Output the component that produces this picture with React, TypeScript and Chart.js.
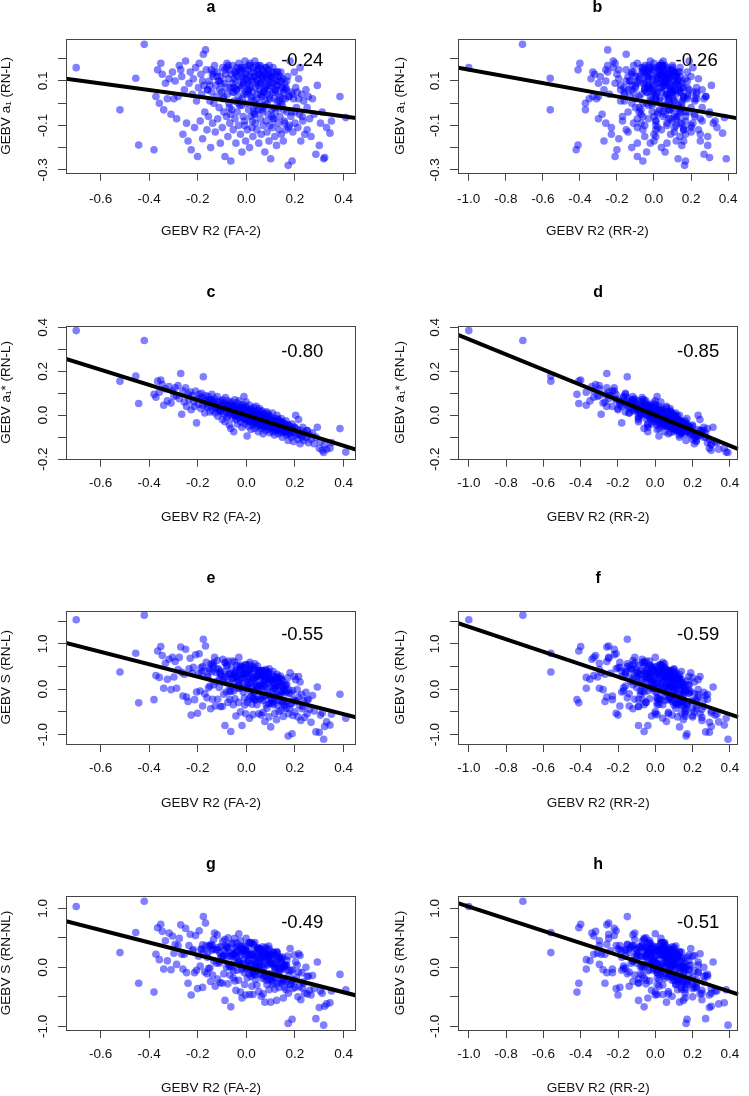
import React, { useEffect, useRef } from 'react';
import { Chart, registerables } from 'chart.js';

Chart.register(...registerables);

// ---------- data (one entry per individual; same order in every array) ----------
const gebvR2FA = [
  -0.700, -0.520, -0.455, -0.443, -0.420, -0.380, -0.372, -0.365, -0.358, -0.352,
  -0.346, -0.340, -0.333, -0.325, -0.318, -0.310, -0.304, -0.298, -0.293, -0.287,
  -0.281, -0.276, -0.270, -0.266, -0.261, -0.255, -0.250, -0.246, -0.240, -0.236,
  -0.231, -0.227, -0.222, -0.218, -0.213, -0.209, -0.205, -0.201, -0.197, -0.194,
  -0.190, -0.187, -0.184, -0.180, -0.177, -0.174, -0.171, -0.168, -0.165, -0.162,
  -0.159, -0.156, -0.153, -0.150, -0.147, -0.145, -0.142, -0.139, -0.136, -0.134,
  -0.131, -0.128, -0.126, -0.123, -0.120, -0.118, -0.115, -0.112, -0.110, -0.107,
  -0.105, -0.102, -0.099, -0.097, -0.095, -0.093, -0.090, -0.088, -0.086, -0.084,
  -0.082, -0.080, -0.078, -0.076, -0.074, -0.072, -0.070, -0.068, -0.066, -0.064,
  -0.062, -0.060, -0.058, -0.056, -0.054, -0.052, -0.050, -0.048, -0.047, -0.045,
  -0.043, -0.041, -0.039, -0.038, -0.036, -0.034, -0.032, -0.031, -0.029, -0.027,
  -0.025, -0.024, -0.022, -0.020, -0.018, -0.017, -0.015, -0.013, -0.011, -0.010,
  -0.008, -0.006, -0.004, -0.003, -0.001, 0.001, 0.003, 0.004, 0.006, 0.008,
  0.009, 0.011, 0.013, 0.014, 0.016, 0.018, 0.019, 0.021, 0.023, 0.024,
  0.026, 0.027, 0.029, 0.031, 0.032, 0.034, 0.035, 0.037, 0.038, 0.040,
  0.042, 0.043, 0.045, 0.046, 0.048, 0.049, 0.051, 0.052, 0.054, 0.055,
  0.057, 0.058, 0.060, 0.061, 0.063, 0.064, 0.066, 0.067, 0.069, 0.070,
  0.072, 0.073, 0.075, 0.076, 0.078, 0.079, 0.081, 0.082, 0.084, 0.085,
  0.087, 0.088, 0.090, 0.091, 0.093, 0.094, 0.096, 0.097, 0.099, 0.100,
  0.102, 0.104, 0.105, 0.107, 0.109, 0.110, 0.112, 0.114, 0.115, 0.117,
  0.119, 0.120, 0.122, 0.124, 0.126, 0.127, 0.129, 0.131, 0.133, 0.134,
  0.136, 0.138, 0.140, 0.142, 0.144, 0.146, 0.148, 0.150, 0.152, 0.154,
  0.156, 0.158, 0.160, 0.163, 0.165, 0.167, 0.170, 0.172, 0.175, 0.177,
  0.180, 0.183, 0.185, 0.188, 0.191, 0.194, 0.197, 0.200, 0.203, 0.206,
  0.209, 0.212, 0.215, 0.218, 0.221, 0.224, 0.228, 0.232, 0.236, 0.240,
  0.245, 0.250, 0.255, 0.260, 0.266, 0.272, 0.279, 0.286, 0.292, 0.300,
  0.305, 0.312, 0.318, 0.322, 0.330, 0.344, 0.350, 0.385, 0.409,
  -0.050, -0.020, 0.010, 0.030, 0.050, 0.070, 0.090, 0.110, 0.130, 0.150,
  -0.150, -0.120, -0.095, -0.080, -0.065, -0.050, -0.040, -0.030, -0.020, -0.012,
  -0.005, 0.002, 0.010, 0.017, 0.025, 0.033, 0.041, 0.048, 0.056, 0.062,
  0.068, 0.074, 0.080, 0.086, 0.092, 0.098, 0.104, 0.111, 0.118, 0.125,
  0.132, 0.140, 0.148, 0.157, 0.166, 0.175, 0.185, -0.135, -0.105, -0.075,
  -0.058, -0.044, -0.033, -0.024, -0.015, -0.007, 0.000, 0.007, 0.015, 0.022,
  0.029, 0.036, 0.044, 0.051, 0.059, 0.066, 0.073, 0.080, 0.088, 0.095,
  0.103, 0.110, 0.118, 0.126, 0.135, 0.144, 0.153, 0.163, 0.173, 0.190,
  -0.110, -0.088, -0.070, -0.055, -0.042, -0.028, -0.016, -0.004, 0.008, 0.020,
  0.031, 0.043, 0.054, 0.065, 0.077, 0.089, 0.101, 0.113, 0.127, 0.142,
  0.158, 0.200, 0.215, -0.180, -0.160, -0.140, 0.230, 0.250, 0.060, 0.040,
];

const gebvR2RR = [
  -1.000, -0.560, -0.560, -0.410, -0.710, -0.420, -0.330, -0.410, -0.370, -0.400,
  -0.320, -0.370, -0.300, -0.350, -0.340, -0.280, -0.330, -0.310, -0.260, -0.300,
  -0.300, -0.250, -0.260, -0.290, -0.230, -0.270, -0.220, -0.260, -0.270, -0.210,
  -0.250, -0.200, -0.240, -0.190, -0.230, -0.220, -0.180, -0.210, -0.160, -0.210,
  -0.170, -0.200, -0.160, -0.190, -0.150, -0.180, -0.140, -0.250, -0.190, -0.150,
  -0.140, -0.170, -0.130, -0.160, -0.120, -0.150, -0.160, -0.110, -0.140, -0.120,
  -0.110, -0.140, -0.100, -0.130, -0.120, -0.090, -0.130, -0.100, -0.120, -0.090,
  -0.080, -0.110, -0.090, -0.070, -0.100, -0.080, -0.060, -0.090, -0.070, -0.100,
  -0.060, -0.090, -0.070, -0.050, -0.080, -0.060, -0.040, -0.070, -0.050, -0.060,
  -0.040, -0.070, -0.050, -0.030, -0.060, -0.040, -0.020, -0.060, -0.030, -0.050,
  -0.020, -0.050, -0.030, -0.010, -0.040, -0.020, -0.050, 0.000, -0.030, -0.010,
  -0.030, 0.000, -0.020, -0.010, -0.040, 0.010, -0.020, 0.000, -0.010, 0.010,
  0.010, -0.020, 0.020, 0.000, 0.030, -0.010, 0.020, 0.010, 0.030, 0.000,
  0.030, 0.010, 0.040, 0.000, 0.030, 0.050, 0.010, 0.040, 0.020, 0.050,
  0.040, 0.010, 0.050, 0.030, 0.060, 0.020, 0.050, 0.070, 0.030, 0.060,
  0.060, 0.040, 0.070, 0.030, 0.080, 0.050, 0.070, 0.040, 0.080, 0.060,
  0.080, 0.050, 0.070, 0.090, 0.060, 0.080, 0.050, 0.090, 0.070, 0.100,
  0.070, 0.100, 0.080, 0.060, 0.090, 0.110, 0.070, 0.100, 0.080, 0.110,
  0.100, 0.080, 0.110, 0.090, 0.120, 0.100, 0.080, 0.120, 0.110, 0.130,
  0.120, 0.090, 0.130, 0.110, 0.100, 0.140, 0.120, 0.100, 0.130, 0.140,
  0.110, 0.140, 0.120, 0.150, 0.130, 0.110, 0.150, 0.140, 0.120, 0.160,
  0.150, 0.130, 0.160, 0.140, 0.170, 0.150, 0.130, 0.170, 0.160, 0.140,
  0.170, 0.150, 0.180, 0.160, 0.190, 0.150, 0.200, 0.165, 0.180, 0.200,
  0.190, 0.170, 0.210, 0.170, 0.200, 0.220, 0.180, 0.210, 0.230, 0.200,
  0.230, 0.200, 0.240, 0.220, 0.210, 0.250, 0.230, 0.260, 0.220, 0.250,
  0.260, 0.240, 0.280, 0.250, 0.290, 0.270, 0.300, 0.270, 0.310, 0.290,
  0.320, 0.300, 0.390, 0.300, 0.340, 0.370, 0.330, 0.280, 0.380,
  -0.030, 0.000, 0.030, 0.050, 0.040, 0.090, 0.080, 0.120, 0.110, 0.160,
  -0.120, -0.100, -0.080, -0.060, -0.070, -0.030, -0.050, -0.010, -0.030, 0.010,
  0.020, -0.010, 0.030, 0.040, 0.010, 0.060, 0.030, 0.070, 0.050, 0.080,
  0.060, 0.090, 0.100, 0.070, 0.110, 0.080, 0.120, 0.100, 0.140, 0.110,
  0.150, 0.120, 0.160, 0.140, 0.180, 0.160, 0.170, -0.110, -0.090, -0.050,
  -0.040, -0.020, -0.040, 0.000, -0.030, 0.010, 0.020, -0.010, 0.040, 0.010,
  0.050, 0.020, 0.060, 0.040, 0.070, 0.050, 0.090, 0.060, 0.100, 0.080,
  0.120, 0.090, 0.130, 0.110, 0.150, 0.130, 0.140, 0.180, 0.160, 0.180,
  -0.090, -0.060, -0.080, -0.030, -0.050, -0.010, -0.030, 0.020, 0.000, 0.040,
  0.020, 0.060, 0.040, 0.080, 0.060, 0.100, 0.090, 0.130, 0.110, 0.150,
  0.140, 0.190, 0.230, -0.150, -0.180, -0.120, 0.220, 0.260, 0.080, 0.060,
];

const gebvA1 = [
  0.160, -0.030, 0.112, -0.188, 0.265, -0.210, 0.030, 0.150, 0.000, 0.180,
  0.130, -0.030, 0.090, 0.020, 0.110, -0.050, 0.140, 0.020, 0.100, -0.070,
  0.030, 0.170, 0.150, 0.120, -0.140, 0.060, 0.190, -0.090, -0.170, 0.090,
  0.140, -0.210, 0.040, 0.110, -0.110, 0.160, 0.010, -0.240, 0.070, 0.180,
  -0.080, 0.130, 0.040, -0.160, 0.220, 0.080, -0.040, 0.240, 0.150, -0.120,
  0.060, -0.060, 0.100, 0.010, -0.200, 0.150, 0.050, -0.090, 0.120, 0.000,
  0.170, -0.130, 0.080, 0.030, 0.140, -0.070, 0.100, -0.020, 0.060, -0.180,
  0.120, 0.050, -0.110, 0.160, 0.020, -0.040, 0.090, -0.240, 0.130, 0.070,
  -0.060, 0.180, 0.040, -0.150, 0.110, 0.000, 0.150, -0.090, 0.070, -0.260,
  0.130, -0.030, 0.090, 0.170, -0.120, 0.050, 0.010, 0.140, -0.070, 0.100,
  -0.180, 0.060, 0.160, -0.040, 0.120, 0.030, -0.100, 0.180, 0.080, -0.010,
  0.140, -0.140, 0.070, 0.110, -0.220, 0.020, 0.160, -0.060, 0.100, 0.040,
  -0.080, 0.190, 0.050, -0.170, 0.130, 0.000, 0.090, -0.120, 0.150, 0.060,
  -0.030, 0.120, -0.200, 0.080, 0.170, -0.060, 0.030, 0.140, -0.110, 0.100,
  0.050, -0.150, 0.160, 0.010, -0.050, 0.120, 0.190, -0.090, 0.070, -0.010,
  0.110, -0.120, 0.040, 0.150, -0.030, 0.080, -0.180, 0.130, 0.000, 0.060,
  -0.070, 0.170, 0.090, -0.140, 0.030, 0.120, -0.040, 0.150, -0.100, 0.050,
  0.100, -0.020, 0.140, -0.220, 0.070, 0.010, 0.160, -0.080, 0.110, -0.130,
  0.040, 0.130, -0.050, 0.080, -0.170, 0.170, 0.020, -0.100, 0.120, -0.250,
  0.090, -0.030, 0.140, -0.110, 0.050, 0.160, -0.070, 0.020, 0.110, -0.150,
  0.060, -0.040, 0.130, -0.190, 0.080, 0.010, -0.090, 0.120, 0.040, -0.120,
  0.100, -0.060, 0.030, 0.140, -0.140, 0.070, -0.010, 0.110, -0.170, 0.050,
  -0.080, 0.090, 0.020, -0.120, 0.060, -0.040, 0.120, -0.280, 0.030, -0.100,
  0.190, -0.060, 0.050, -0.260, -0.130, 0.020, 0.140, -0.090, 0.070, -0.020,
  0.050, -0.110, 0.110, -0.050, 0.160, -0.170, 0.040, -0.080, 0.010, -0.140,
  0.060, -0.120, 0.030, -0.070, -0.150, 0.020, -0.050, -0.230, 0.080, -0.190,
  -0.090, -0.040, -0.250, -0.245, -0.110, -0.135, -0.080, 0.030, -0.065,
  0.070, 0.150, 0.100, -0.020, 0.130, 0.050, 0.110, 0.090, 0.140, 0.020,
  0.080, 0.120, 0.030, 0.160, -0.050, 0.110, 0.060, 0.150, -0.010, 0.090,
  0.130, 0.040, 0.170, 0.070, -0.080, 0.120, 0.020, 0.150, 0.090, -0.030,
  0.110, 0.060, 0.160, 0.000, 0.130, 0.080, -0.060, 0.140, 0.050, 0.100,
  -0.020, 0.120, 0.070, -0.090, 0.100, 0.030, -0.040, 0.140, 0.090, 0.170,
  0.050, 0.130, 0.000, 0.160, 0.080, -0.100, 0.110, 0.060, 0.180, 0.020,
  0.140, -0.050, 0.100, 0.170, 0.040, 0.120, -0.010, 0.080, 0.150, 0.030,
  0.120, -0.070, 0.060, 0.140, 0.010, 0.100, -0.030, 0.070, -0.110, 0.040,
  0.100, 0.150, -0.020, 0.070, 0.140, 0.010, 0.120, 0.160, 0.050, 0.110,
  -0.040, 0.090, 0.160, 0.030, 0.130, 0.060, 0.110, -0.020, 0.080, 0.000,
  0.060, -0.040, 0.020, 0.100, 0.060, 0.130, -0.060, -0.020, 0.130, 0.170,
];

const gebvA1Star = [
  0.385, 0.155, 0.178, 0.053, 0.340, 0.095, 0.082, 0.155, 0.105, 0.160,
  0.140, 0.045, 0.120, 0.065, 0.130, 0.055, 0.110, 0.085, 0.125, 0.090,
  0.135, 0.075, 0.190, 0.004, 0.110, 0.060, 0.125, 0.040, 0.095, 0.070,
  0.105, 0.025, 0.090, 0.060, 0.040, 0.110, -0.035, 0.075, 0.050, 0.095,
  0.080, 0.030, 0.100, 0.045, 0.175, 0.065, 0.010, 0.090, 0.055, 0.070,
  0.035, 0.085, 0.060, 0.015, 0.070, 0.045, 0.095, 0.020, 0.060, 0.040,
  0.075, 0.010, 0.050, 0.030, 0.085, -0.005, 0.060, 0.040, 0.020, 0.065,
  0.015, 0.055, -0.020, 0.070, 0.035, 0.005, 0.045, -0.030, 0.080, 0.025,
  0.050, -0.010, 0.035, 0.065, 0.000, 0.040, -0.045, 0.020, 0.055, -0.060,
  0.030, 0.060, -0.015, 0.045, 0.010, -0.075, 0.035, 0.070, 0.000, 0.025,
  -0.020, 0.040, 0.015, 0.055, -0.040, 0.030, 0.005, 0.065, -0.010, 0.020,
  0.045, -0.030, 0.010, 0.035, -0.055, 0.025, 0.000, 0.050, -0.015, 0.085,
  0.020, -0.040, 0.040, -0.010, 0.060, 0.005, -0.095, 0.030, -0.025, 0.015,
  -0.050, 0.025, -0.015, 0.045, -0.030, 0.010, -0.065, 0.030, 0.000, -0.020,
  0.020, -0.045, 0.005, -0.025, 0.035, -0.060, -0.005, 0.015, -0.035, 0.040,
  -0.020, 0.010, -0.050, 0.025, -0.030, -0.075, 0.000, -0.010, 0.030, -0.045,
  -0.005, -0.040, 0.015, -0.060, -0.025, 0.020, -0.050, -0.015, -0.085, 0.005,
  -0.035, 0.000, -0.055, -0.020, 0.010, -0.070, -0.030, -0.045, 0.015, -0.010,
  -0.050, -0.015, -0.065, 0.005, -0.040, -0.025, -0.080, -0.005, -0.055, -0.030,
  -0.020, -0.060, -0.040, 0.010, -0.075, -0.035, -0.050, -0.015, -0.090, -0.030,
  -0.055, -0.025, -0.070, -0.040, 0.000, -0.060, -0.035, -0.085, -0.020, -0.050,
  -0.065, -0.030, -0.050, -0.080, -0.015, -0.045, -0.100, -0.060, -0.035, -0.070,
  -0.040, -0.075, -0.055, -0.025, -0.090, -0.065, -0.045, -0.115, -0.070, -0.050,
  -0.085, -0.060, -0.100, -0.040, -0.075, -0.120, -0.055, -0.090, 0.000, -0.080,
  -0.065, -0.110, -0.020, -0.085, -0.130, -0.070, -0.095, -0.055, -0.115, -0.080,
  -0.100, -0.070, -0.125, -0.090, -0.110, -0.080, -0.130, -0.100, -0.055, -0.150,
  -0.120, -0.160, -0.170, -0.135, -0.155, -0.150, -0.125, -0.061, -0.168,
  0.010, 0.020, -0.010, 0.000, -0.030, -0.015, -0.040, -0.025, -0.060, -0.045,
  0.070, 0.030, 0.050, 0.010, 0.040, 0.000, 0.035, -0.010, 0.025, 0.030,
  -0.020, 0.020, 0.010, -0.030, 0.015, -0.040, 0.005, -0.025, 0.000, -0.045,
  -0.010, -0.045, -0.020, -0.050, -0.005, -0.040, -0.025, -0.060, -0.030, -0.015,
  -0.070, -0.030, -0.060, -0.040, -0.080, -0.045, -0.075, 0.065, 0.020, 0.045,
  0.040, -0.005, 0.030, 0.000, 0.035, -0.020, 0.015, -0.030, 0.020, -0.010,
  0.010, -0.035, -0.005, -0.040, 0.000, -0.030, -0.050, -0.015, -0.045, -0.020,
  -0.055, -0.025, -0.065, -0.035, -0.070, -0.030, -0.075, -0.050, -0.085, -0.060,
  0.025, 0.050, 0.010, 0.040, 0.000, 0.030, -0.010, 0.020, -0.020, 0.005,
  -0.030, 0.000, -0.040, -0.010, -0.050, -0.020, -0.055, -0.025, -0.065, -0.035,
  -0.075, -0.055, -0.090, 0.080, 0.040, 0.060, -0.100, -0.070, -0.010, -0.030,
];

const gebvSLinear = [
  1.53, 0.38, 0.79, -0.30, 1.63, -0.23, 0.30, 0.84, 0.26, 0.94,
  0.74, 0.02, 0.57, 0.22, 0.66, -0.01, 0.70, 0.27, 0.61, 0.02,
  0.43, 0.70, 0.93, 0.37, -0.15, 0.33, 0.88, -0.17, -0.27, 0.45,
  0.68, -0.57, 0.35, 0.48, -0.23, 0.76, -0.06, -0.53, 0.34, 0.78,
  -0.04, 0.47, 0.37, -0.37, 1.10, 0.40, -0.10, 0.95, 0.59, -0.19,
  0.27, 0.03, 0.45, 0.07, -0.43, 0.56, 0.39, -0.22, 0.51, 0.10,
  0.70, -0.37, 0.37, 0.17, 0.63, -0.22, 0.45, 0.04, 0.23, -0.38,
  0.40, 0.29, -0.38, 0.66, 0.15, -0.11, 0.38, -0.80, 0.59, 0.27,
  -0.06, 0.52, 0.21, -0.29, 0.33, 0.10, 0.34, -0.22, 0.35, -0.93,
  0.47, 0.06, 0.23, 0.62, -0.34, -0.04, 0.12, 0.60, -0.21, 0.36,
  -0.59, 0.28, 0.52, 0.02, 0.26, 0.17, -0.29, 0.70, 0.22, 0.02,
  0.53, -0.50, 0.24, 0.42, -0.80, 0.12, 0.48, -0.06, 0.26, 0.33,
  -0.19, 0.47, 0.25, -0.54, 0.54, 0.01, 0.03, -0.29, 0.39, 0.22,
  -0.22, 0.42, -0.64, 0.35, 0.44, -0.16, -0.07, 0.50, -0.33, 0.25,
  0.20, -0.56, 0.49, -0.03, -0.06, 0.21, 0.56, -0.23, 0.12, 0.07,
  0.28, -0.34, 0.00, 0.51, -0.17, 0.05, -0.54, 0.37, 0.08, 0.07,
  -0.22, 0.41, 0.31, -0.57, 0.03, 0.41, -0.25, 0.41, -0.51, 0.16,
  0.21, -0.06, 0.28, -0.71, 0.24, -0.15, 0.41, -0.35, 0.37, -0.42,
  -0.01, 0.35, -0.31, 0.25, -0.61, 0.45, -0.14, -0.31, 0.22, -0.83,
  0.22, -0.24, 0.32, -0.31, -0.04, 0.39, -0.34, 0.02, 0.11, -0.53,
  0.04, -0.18, 0.22, -0.67, 0.24, -0.12, -0.36, 0.15, 0.07, -0.49,
  0.14, -0.26, -0.04, 0.22, -0.46, 0.10, -0.28, 0.18, -0.60, -0.03,
  -0.34, 0.08, -0.08, -0.42, -0.05, -0.28, 0.25, -1.03, -0.09, -0.43,
  0.36, -0.33, -0.10, -0.98, -0.58, -0.24, 0.28, -0.50, 0.21, -0.26,
  -0.01, -0.61, 0.28, -0.36, 0.16, -0.69, -0.12, -0.38, -0.26, -0.62,
  -0.07, -0.54, -0.22, -0.44, -0.73, -0.14, -0.48, -0.94, 0.05, -0.95,
  -0.57, -0.52, -1.10, -0.82, -0.72, -0.79, -0.55, -0.11, -0.64,
  0.24, 0.50, 0.28, -0.06, 0.32, 0.11, 0.23, 0.21, 0.27, -0.05,
  0.42, 0.44, 0.22, 0.51, -0.05, 0.33, 0.27, 0.43, 0.03, 0.35,
  0.34, 0.17, 0.54, 0.14, -0.20, 0.26, 0.07, 0.39, 0.27, -0.20,
  0.31, 0.07, 0.43, -0.13, 0.38, 0.14, -0.24, 0.27, 0.08, 0.26,
  -0.24, 0.29, 0.06, -0.37, 0.10, -0.02, -0.31, 0.58, 0.32, 0.62,
  0.25, 0.38, 0.08, 0.48, 0.33, -0.35, 0.37, 0.11, 0.59, 0.04,
  0.45, -0.24, 0.29, 0.41, 0.12, 0.29, -0.16, 0.20, 0.34, 0.04,
  0.22, -0.27, 0.02, 0.33, -0.15, 0.23, -0.28, 0.09, -0.54, -0.03,
  0.36, 0.58, -0.04, 0.31, 0.42, 0.11, 0.34, 0.53, 0.10, 0.34,
  -0.20, 0.27, 0.38, 0.07, 0.27, 0.13, 0.19, -0.12, 0.08, -0.09,
  -0.01, -0.26, -0.17, 0.50, 0.28, 0.54, -0.43, -0.24, 0.37, 0.44,
];

const gebvSNonLinear = [
  1.03, 0.25, 0.59, -0.27, 1.12, -0.42, 0.22, 0.67, 0.13, 0.73,
  0.61, -0.03, 0.45, 0.11, 0.58, -0.04, 0.53, 0.24, 0.39, 0.05,
  0.37, 0.49, 0.72, 0.22, -0.03, 0.22, 0.66, -0.09, -0.27, 0.37,
  0.56, -0.47, 0.28, 0.30, -0.09, 0.54, -0.05, -0.36, 0.19, 0.62,
  0.02, 0.31, 0.30, -0.34, 0.86, 0.27, -0.08, 0.75, 0.37, -0.11,
  0.25, -0.02, 0.36, -0.01, -0.24, 0.39, 0.29, -0.13, 0.31, 0.11,
  0.58, -0.32, 0.30, 0.07, 0.55, -0.20, 0.34, 0.07, 0.10, -0.26,
  0.35, 0.18, -0.27, 0.44, 0.19, -0.11, 0.29, -0.56, 0.37, 0.23,
  0.00, 0.35, 0.18, -0.28, 0.33, 0.05, 0.26, -0.13, 0.19, -0.67,
  0.40, 0.00, 0.19, 0.41, -0.18, -0.06, 0.09, 0.49, -0.23, 0.30,
  -0.39, 0.17, 0.41, -0.05, 0.28, 0.10, -0.22, 0.57, 0.10, 0.05,
  0.45, -0.42, 0.20, 0.26, -0.52, 0.06, 0.36, -0.01, 0.13, 0.28,
  -0.09, 0.31, 0.21, -0.47, 0.49, -0.02, 0.02, -0.18, 0.22, 0.20,
  -0.11, 0.28, -0.46, 0.20, 0.41, -0.15, -0.05, 0.42, -0.32, 0.22,
  0.20, -0.46, 0.39, -0.08, 0.04, 0.13, 0.42, -0.13, 0.02, 0.08,
  0.26, -0.30, 0.02, 0.32, -0.05, 0.01, -0.41, 0.32, -0.01, 0.08,
  -0.12, 0.27, 0.25, -0.49, 0.10, 0.28, -0.19, 0.35, -0.45, 0.15,
  0.21, -0.09, 0.23, -0.59, 0.26, -0.14, 0.31, -0.22, 0.21, -0.29,
  0.04, 0.22, -0.21, 0.13, -0.38, 0.31, -0.11, -0.19, 0.10, -0.59,
  0.21, -0.22, 0.26, -0.29, 0.05, 0.26, -0.26, 0.06, 0.01, -0.37,
  0.08, -0.17, 0.19, -0.56, 0.26, -0.12, -0.27, 0.15, -0.02, -0.34,
  0.16, -0.23, -0.01, 0.11, -0.27, 0.05, -0.21, 0.17, -0.52, 0.01,
  -0.21, 0.02, -0.04, -0.38, 0.04, -0.24, 0.19, -0.95, -0.14, -0.29,
  0.32, -0.29, -0.06, -0.88, -0.36, -0.21, 0.21, -0.34, 0.09, -0.17,
  0.04, -0.50, 0.23, -0.33, 0.20, -0.55, -0.09, -0.25, -0.27, -0.44,
  0.00, -0.45, -0.15, -0.39, -0.47, -0.14, -0.36, -0.87, 0.09, -0.68,
  -0.40, -0.44, -0.98, -0.66, -0.62, -0.60, -0.40, -0.12, -0.38,
  0.23, 0.34, 0.23, -0.11, 0.32, 0.05, 0.17, 0.20, 0.13, -0.01,
  0.36, 0.30, 0.19, 0.34, 0.02, 0.22, 0.20, 0.36, -0.04, 0.29,
  0.30, 0.09, 0.42, 0.06, -0.09, 0.17, 0.05, 0.33, 0.16, -0.12,
  0.28, 0.01, 0.34, -0.16, 0.36, 0.07, -0.18, 0.24, 0.00, 0.23,
  -0.13, 0.18, 0.06, -0.34, 0.12, -0.05, -0.23, 0.47, 0.19, 0.50,
  0.23, 0.25, 0.08, 0.32, 0.30, -0.29, 0.28, 0.12, 0.41, 0.06,
  0.38, -0.21, 0.18, 0.27, 0.14, 0.19, -0.16, 0.18, 0.21, 0.06,
  0.20, -0.17, -0.02, 0.26, -0.08, 0.14, -0.23, 0.03, -0.44, -0.04,
  0.25, 0.47, 0.01, 0.20, 0.35, 0.05, 0.27, 0.36, 0.10, 0.22,
  -0.12, 0.16, 0.32, 0.01, 0.23, 0.14, 0.10, -0.11, 0.02, -0.03,
  0.03, -0.24, -0.08, 0.38, 0.17, 0.37, -0.35, -0.15, 0.30, 0.29,
];

// tick values (all tick marks) and the ticks that carry a label
const xTicksFA = [-0.6, -0.4, -0.2, 0.0, 0.2, 0.4];
const xTicksRR = [-1.0, -0.8, -0.6, -0.4, -0.2, 0.0, 0.2, 0.4];
const yTicksA1 = [-0.3, -0.2, -0.1, 0.0, 0.1, 0.2];
const yLabelsA1 = [-0.3, -0.1, 0.1];
const yTicksA1Star = [-0.2, -0.1, 0.0, 0.1, 0.2, 0.3, 0.4];
const yLabelsA1Star = [-0.2, 0.0, 0.2, 0.4];
const yTicksS = [-1.0, -0.5, 0.0, 0.5, 1.0, 1.5];
const yTicksSNL = [-1.0, -0.5, 0.0, 0.5, 1.0];
const yLabelsS = [-1.0, 0.0, 1.0];

// panel annotations
const panelLetters = ['a', 'b', 'c', 'd', 'e', 'f', 'g', 'h'];
const correlations = ['-0.24', '-0.26', '-0.80', '-0.85', '-0.55', '-0.59', '-0.49', '-0.51'];
const fitSlopes = [-0.148, -0.151, -0.346, -0.346, -1.375, -1.376, -1.056, -1.03];
const fitIntercepts = [0.0, 0.0, 0.0, 0.0, 0.0, 0.0, 0.0, 0.0];
const xTitles = ['GEBV R2 (FA-2)', 'GEBV R2 (RR-2)'];
const yTitles = ['GEBV a\u2081 (RN-L)', 'GEBV a\u2081* (RN-L)', 'GEBV S (RN-L)', 'GEBV S (RN-NL)'];

// ---------- layout / style ----------
const FONT = '"Liberation Sans", Arial, Helvetica, sans-serif';
const PANEL_W = 374;
const COL_LEFT = [0, 375];
const ROW_TOP = [0, 270, 540, 815];
const ROW_H = [270, 270, 275, 281];
const PLOT_TOP = [39, 56, 70.7, 81];
const PLOT_BOTTOM = [172.7, 188.7, 204, 215];
const TITLE_BASE = [12, 27, 43, 54];
const CORR_DY = [27, 31.3, 29.3, 31.7];
const X_LABEL_PAD = [11.4, 9.7, 9.6, 9.6];
const X_TITLE_PAD = [32.25, 15.95, 4.95, 0.95];
const PLOT_LEFT = [66, 83];
const PAD_RIGHT = [18, 1];
const Y_TITLE_PAD = [0, 18.25];
const X_RANGE = [[-0.742, 0.451], [-1.058, 0.446]];
const Y_RANGE = [[-0.313, 0.289], [-0.198, 0.406], [-1.206, 1.728], [-1.062, 1.209]];
const CORR_X = 0.23;

const ySeries = [gebvA1, gebvA1Star, gebvSLinear, gebvSNonLinear];
const yTickSets = [yTicksA1, yTicksA1Star, yTicksS, yTicksSNL];
const yLabelSets = [yLabelsA1, yLabelsA1Star, yLabelsS, yLabelsS];

function Panel({ index }: { index: number }) {
  const ref = useRef<HTMLCanvasElement | null>(null);
  const row = Math.floor(index / 2);
  const col = index % 2;

  useEffect(() => {
    const canvas = ref.current;
    if (!canvas) return;
    const xs = col === 0 ? gebvR2FA : gebvR2RR;
    const ys = ySeries[row];
    const [xMin, xMax] = X_RANGE[col];
    const [yMin, yMax] = Y_RANGE[row];
    const xTicks = col === 0 ? xTicksFA : xTicksRR;
    const yTicks = yTickSets[row];
    const yLabels = yLabelSets[row];
    const slope = fitSlopes[index];
    const icpt = fitIntercepts[index];
    const H = ROW_H[row];

    const decor = {
      id: 'panelDecor',
      afterDraw(chart: any) {
        const { ctx, chartArea: a, scales } = chart;
        ctx.save();
        ctx.strokeStyle = '#444';
        ctx.lineWidth = 1;
        ctx.strokeRect(Math.round(a.left) + 0.5, Math.round(a.top) + 0.5,
          Math.round(a.right - a.left) - 1, Math.round(a.bottom - a.top));
        ctx.fillStyle = '#000';
        ctx.textAlign = 'center';
        ctx.textBaseline = 'alphabetic';
        ctx.font = `bold 16px ${FONT}`;
        ctx.fillText(panelLetters[index], (a.left + a.right) / 2, TITLE_BASE[row]);
        ctx.font = `18.5px ${FONT}`;
        ctx.fillText(correlations[index], scales.x.getPixelForValue(CORR_X), a.top + CORR_DY[row]);
        ctx.restore();
      },
    };

    const tickFont = { family: FONT, size: 13.5, lineHeight: 1 };

    const chart = new Chart(canvas, {
      type: 'scatter',
      data: {
        datasets: [
          {
            type: 'line',
            data: [
              { x: xMin, y: icpt + slope * xMin },
              { x: xMax, y: icpt + slope * xMax },
            ],
            borderColor: '#000',
            borderWidth: 4,
            pointRadius: 0,
            showLine: true,
            fill: false,
            order: 0,
          } as any,
          {
            data: xs.map((x, i) => ({ x, y: ys[i] })),
            backgroundColor: 'rgba(0,0,255,0.5)',
            borderWidth: 0,
            pointRadius: 3.8,
            pointHoverRadius: 3.8,
            order: 1,
          },
        ],
      },
      options: {
        responsive: false,
        maintainAspectRatio: false,
        animation: false,
        events: [],
        layout: { padding: { top: PLOT_TOP[row], right: PAD_RIGHT[col], bottom: 0, left: 0 } },
        plugins: { legend: { display: false }, tooltip: { enabled: false }, title: { display: false } },
        scales: {
          x: {
            type: 'linear',
            position: 'bottom',
            min: xMin,
            max: xMax,
            bounds: 'data',
            afterBuildTicks: (s: any) => { s.ticks = xTicks.map((v) => ({ value: v })); },
            afterFit: (s: any) => { s.height = H - PLOT_BOTTOM[row]; },
            grid: { display: true, drawOnChartArea: false, drawTicks: true, tickLength: 8, color: '#444', lineWidth: 1 },
            border: { display: false },
            ticks: {
              autoSkip: false, minRotation: 0, maxRotation: 0, padding: X_LABEL_PAD[row],
              font: tickFont, color: '#111',
              callback: (v: any) => Number(v).toFixed(1),
            },
            title: {
              display: true, text: xTitles[col], color: '#111',
              font: tickFont, padding: { top: 0, bottom: X_TITLE_PAD[row] },
            },
          },
          y: {
            type: 'linear',
            position: 'left',
            min: yMin,
            max: yMax,
            bounds: 'data',
            afterBuildTicks: (s: any) => { s.ticks = yTicks.map((v) => ({ value: v })); },
            afterFit: (s: any) => { s.width = PLOT_LEFT[col]; },
            grid: { display: true, drawOnChartArea: false, drawTicks: true, tickLength: 8, color: '#444', lineWidth: 1 },
            border: { display: false },
            ticks: {
              autoSkip: false, minRotation: 90, maxRotation: 90, crossAlign: 'center', padding: 3.3,
              font: tickFont, color: '#111',
              callback: (v: any) => (yLabels.some((l) => Math.abs(l - Number(v)) < 1e-9) ? Number(v).toFixed(1) : ''),
            },
            title: {
              display: true, text: yTitles[row], color: '#111',
              font: tickFont, padding: { top: Y_TITLE_PAD[col], bottom: 0 },
            },
          },
        },
      } as any,
      plugins: [decor],
    });
    return () => chart.destroy();
  }, [index, row, col]);

  return (
    <canvas
      ref={ref}
      width={PANEL_W}
      height={ROW_H[row]}
      style={{ position: 'absolute', left: COL_LEFT[col], top: ROW_TOP[row], width: PANEL_W, height: ROW_H[row] }}
    />
  );
}

export default function App() {
  return (
    <div style={{ position: 'absolute', left: 0, top: 0, width: 749, height: 1096, background: '#fff', overflow: 'hidden' }}>
      {panelLetters.map((_, i) => <Panel key={i} index={i} />)}
    </div>
  );
}
